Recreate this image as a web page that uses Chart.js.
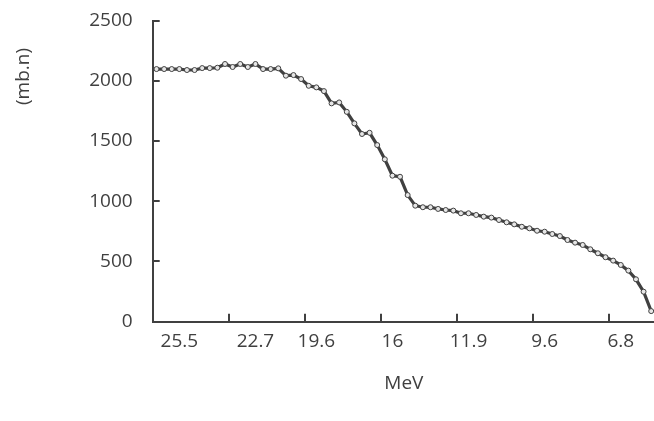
<!DOCTYPE html>
<html><head><meta charset="utf-8">
<script src="https://cdn.jsdelivr.net/npm/chart.js@4.4.0/dist/chart.umd.min.js"></script>
<style>html,body{margin:0;padding:0;overflow:hidden;background:#fff;width:654px;height:421px}canvas{display:block}</style>
</head><body>
<canvas id="c" width="660" height="421"></canvas>
<script>
// Energy categories (MeV); only the labelled ones are readable in the picture
const categories = [
  '', '', '', '25.5', '', '', '', '', '', '',
  '', '', '', '22.7', '', '', '', '', '', '',
  '', '19.6', '', '', '', '', '', '', '', '',
  '', '16', '', '', '', '', '', '', '', '',
  '', '11.9', '', '', '', '', '', '', '', '',
  '', '9.6', '', '', '', '', '', '', '', '',
  '', '6.8', '', '', '', ''
];
// cross section (mb.n)
const crossSection = [
  2097, 2097, 2097, 2097, 2089, 2089, 2105, 2105, 2108, 2139,
  2114, 2139, 2114, 2139, 2097, 2097, 2103, 2042, 2047, 2014,
  1958, 1945, 1914, 1812, 1820, 1742, 1646, 1558, 1568, 1466,
  1348, 1212, 1203, 1051, 963, 950, 950, 936, 927, 922,
  900, 900, 886, 872, 864, 844, 825, 808, 788, 775,
  755, 747, 728, 711, 678, 656, 637, 601, 568, 535,
  507, 471, 424, 352, 249, 88
];
const yMin = 0, yMax = 2500, yStep = 500;
const tickEvery = 10;
const xTitle = 'MeV';
const yTitle = '(mb.n)';

const axisColor = '#404040';
const textColor = '#404040';
const fontFamily = '"Open Sans", "Noto Sans", sans-serif';
const fontSize = 19;

const innerTicks = {
  id: 'innerTicks',
  afterDraw(chart) {
    const {ctx, chartArea: a, scales: {x, y}} = chart;
    ctx.save();
    ctx.strokeStyle = axisColor;
    ctx.lineWidth = 2;
    ctx.beginPath();
    y.ticks.forEach(t => {
      const py = Math.round(y.getPixelForValue(t.value));
      ctx.moveTo(a.left, py); ctx.lineTo(a.left + 7, py);
    });
    for (let i = tickEvery; i < categories.length; i += tickEvery) {
      const px = Math.round((x.getPixelForValue(i - 1) + x.getPixelForValue(i)) / 2);
      ctx.moveTo(px, a.bottom); ctx.lineTo(px, a.bottom - 8);
    }
    ctx.stroke();
    ctx.translate(a.left - 129, a.top + 56);
    ctx.rotate(-Math.PI / 2);
    ctx.fillStyle = textColor;
    ctx.font = fontSize + 'px ' + fontFamily;
    ctx.textAlign = 'center';
    ctx.textBaseline = 'middle';
    ctx.fillText(yTitle, 0, 0);
    ctx.restore();
  }
};

new Chart(document.getElementById('c'), {
  type: 'line',
  data: {
    labels: categories,
    datasets: [{
      data: crossSection,
      borderColor: '#404040',
      borderWidth: 3.2,
      tension: 0,
      pointRadius: 2.5,
      pointBorderWidth: 1,
      pointBorderColor: '#404040',
      pointBackgroundColor: '#e6e6e6',
      clip: false
    }]
  },
  options: {
    responsive: false,
    animation: false,
    events: [],
    layout: {padding: {left: 40, top: 20.5, right: 3, bottom: 0}},
    plugins: {legend: {display: false}, tooltip: {enabled: false}},
    scales: {
      x: {
        type: 'category',
        offset: true,
        grid: {display: false, drawTicks: false},
        border: {display: true, color: axisColor, width: 2},
        ticks: {autoSkip: false, maxRotation: 0, padding: 8, color: textColor,
                font: {family: fontFamily, size: fontSize}},
        title: {display: true, text: xTitle, color: textColor,
                font: {family: fontFamily, size: fontSize}, padding: {top: 0, bottom: 26}},
        afterFit(s) { s.paddingLeft = 0; s.paddingRight = 0; s.height = 99.3; }
      },
      y: {
        min: yMin, max: yMax,
        grid: {display: false, drawTicks: false},
        border: {display: true, color: axisColor, width: 2},
        ticks: {stepSize: yStep, padding: 20, color: textColor,
                font: {family: fontFamily, size: fontSize},
                callback: v => String(v)},
        afterFit(s) { s.paddingTop = 0; s.paddingBottom = 0; s.width = 112.7; }
      }
    }
  },
  plugins: [innerTicks]
});
</script>
</body></html>
